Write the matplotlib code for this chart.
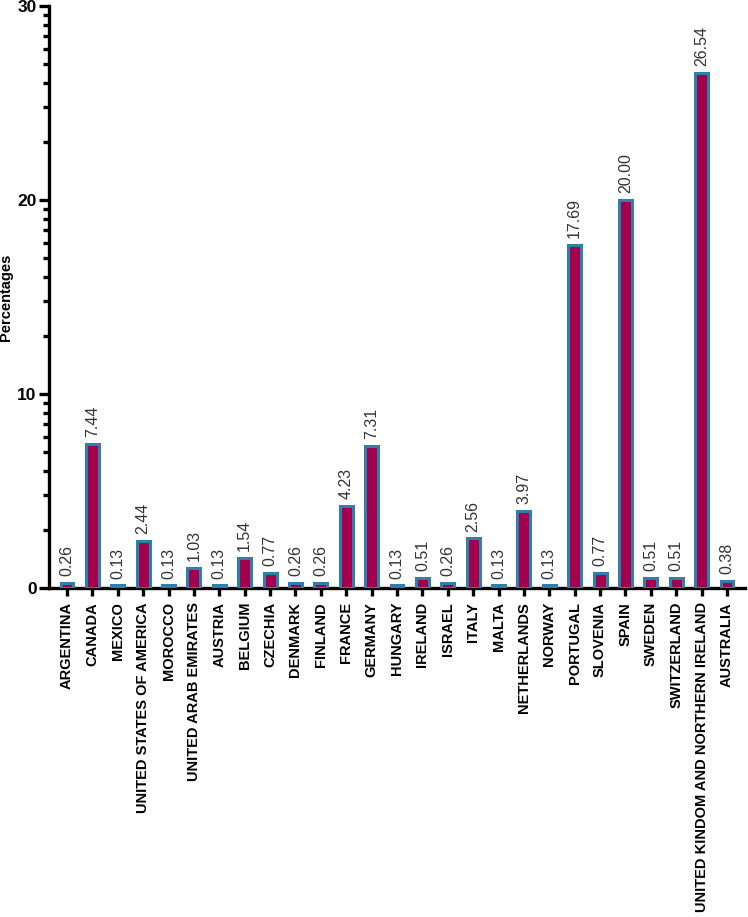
import matplotlib
matplotlib.use("Agg")
import matplotlib.pyplot as plt
import numpy as np
from matplotlib.ticker import FixedLocator

countries = ["ARGENTINA", "CANADA", "MEXICO", "UNITED STATES OF AMERICA", "MOROCCO",
             "UNITED ARAB EMIRATES", "AUSTRIA", "BELGIUM", "CZECHIA", "DENMARK", "FINLAND",
             "FRANCE", "GERMANY", "HUNGARY", "IRELAND", "ISRAEL", "ITALY", "MALTA",
             "NETHERLANDS", "NORWAY", "PORTUGAL", "SLOVENIA", "SPAIN", "SWEDEN",
             "SWITZERLAND", "UNITED KINDOM AND NORTHERN IRELAND", "AUSTRALIA"]
percentages = [0.26, 7.44, 0.13, 2.44, 0.13, 1.03, 0.13, 1.54, 0.77, 0.26, 0.26,
               4.23, 7.31, 0.13, 0.51, 0.26, 2.56, 0.13, 3.97, 0.13, 17.69, 0.77,
               20.00, 0.51, 0.51, 26.54, 0.38]
y_major = [0, 10, 20, 30]

plt.rcParams['font.family'] = ['Liberation Sans', 'DejaVu Sans']

fig = plt.figure(figsize=(7.48, 9.17), dpi=100)
ax = fig.add_axes([49/748, 1 - 588/917, (745-49)/748, (588-6)/917])

x = np.arange(len(countries))
ax.bar(x, percentages, width=0.51, color='#A3004E', edgecolor='#2F7FAD', linewidth=2.2, zorder=3)

for xi, v in zip(x, percentages):
    ax.text(xi, v + 0.35, f"{v:.2f}", rotation=90, ha='center', va='bottom',
            fontsize=11.5, color='#333333')

ax.set_xlim(-0.71, len(countries) - 0.29)
ax.set_ylim(0, 30)
ax.set_yticks(y_major)
minor = []
for b in y_major[:-1]:
    for k in range(2, 10):
        minor.append(b + 10 * np.log10(k))
ax.yaxis.set_minor_locator(FixedLocator(minor))
ax.set_yticklabels([str(t) for t in y_major], fontsize=12.5, fontweight='bold')
ax.set_xticks(x)
ax.set_xticklabels(countries, rotation=90, fontsize=10.5, fontweight='bold')

for s in ['top', 'right']:
    ax.spines[s].set_visible(False)
for s in ['left', 'bottom']:
    ax.spines[s].set_linewidth(2.4)
ax.tick_params(axis='y', which='major', length=7, width=2.4, pad=2)
ax.tick_params(axis='y', which='minor', length=4, width=2.4)
ax.tick_params(axis='x', which='major', length=6, width=2.4, pad=4)

ax.set_ylabel("Percentages", fontsize=10.5, fontweight='bold')
ax.yaxis.set_label_coords(-0.052, 0.5)

fig.savefig("out.png", dpi=100)
